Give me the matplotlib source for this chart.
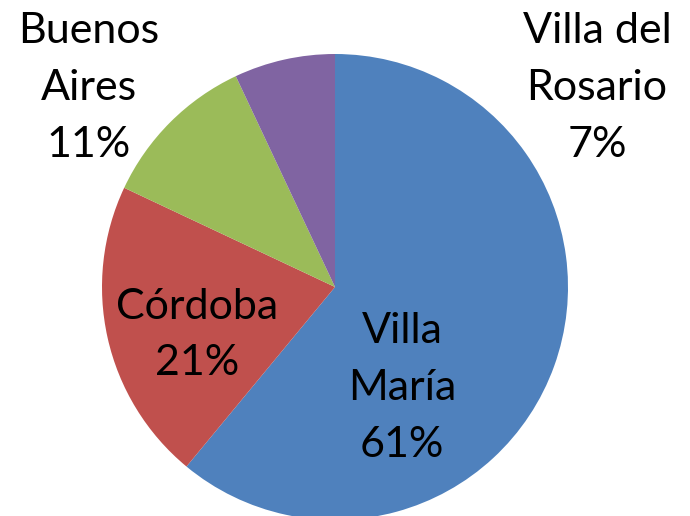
import matplotlib
matplotlib.use("Agg")
import matplotlib.pyplot as plt

categories = ["Villa María", "Córdoba", "Buenos Aires", "Villa del Rosario"]
label_lines = ["Villa\nMaría", "Córdoba", "Buenos\nAires", "Villa del\nRosario"]
values = [61, 21, 11, 7]
colors = ["#4F81BD", "#C0504D", "#9BBB59", "#8064A2"]

W, H = 690, 516
fig = plt.figure(figsize=(W / 100, H / 100), dpi=100)
ax = fig.add_axes([0, 0, 1, 1])

cx, cy, r = 335, H - 287, 233
ax.pie(values, colors=colors, startangle=90, counterclock=False,
       center=(cx, cy), radius=r, frame=True,
       wedgeprops=dict(linewidth=0))
ax.set_xlim(0, W)
ax.set_ylim(0, H)
ax.set_aspect("equal")
ax.axis("off")

total = sum(values)
label_pos = [(402, H - 388), (197, H - 335), (89, H - 88), (597, H - 88)]
for lab, v, (x, y) in zip(label_lines, values, label_pos):
    ax.text(x, y, f"{lab}\n{round(100 * v / total)}%", ha="center", va="center",
            fontsize=31, family="Lato", color="black", linespacing=1.6)

fig.savefig("out.png", dpi=100)
